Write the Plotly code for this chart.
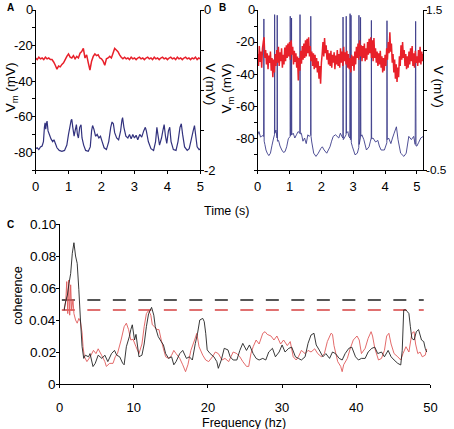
import plotly.graph_objects as go

W, H = 454, 429
FONT = "Liberation Sans, Arial, sans-serif"

# ---------------- Panel A ----------------
a_blue_t = [0.00, 0.05, 0.10, 0.15, 0.20, 0.24, 0.27, 0.29, 0.31, 0.33, 0.35, 0.38, 0.42, 0.47, 0.52,
            0.56, 0.60, 0.65, 0.72, 0.80, 0.88, 0.95, 1.00, 1.04, 1.08, 1.10, 1.13, 1.17, 1.20, 1.24,
            1.27, 1.30, 1.34, 1.38, 1.41, 1.46, 1.52, 1.60, 1.66, 1.70, 1.73, 1.77, 1.82, 1.87, 1.92,
            1.97, 2.02, 2.08, 2.15, 2.22, 2.28, 2.32, 2.36, 2.40, 2.46, 2.52, 2.58, 2.62, 2.64, 2.68,
            2.74, 2.80, 2.85, 2.90, 2.95, 3.00, 3.05, 3.10, 3.16, 3.22, 3.28, 3.33, 3.36, 3.42, 3.50,
            3.58, 3.64, 3.68, 3.71, 3.76, 3.82, 3.86, 3.90, 3.94, 3.98, 4.03, 4.07, 4.11, 4.18, 4.26,
            4.32, 4.38, 4.42, 4.46, 4.52, 4.60, 4.66, 4.72, 4.78, 4.82, 4.86, 4.90, 4.96, 5.00]
a_blue_v = [-78, -77.5, -78.5, -77, -76.5, -74, -66, -63.5, -67, -64, -62.5, -68, -70, -72.5, -74,
            -73, -75, -77.5, -79, -79.5, -79, -76, -70, -66, -62, -61.5, -66, -71, -68, -64.5,
            -70, -72, -66, -64.5, -72, -76, -79, -79.5, -77, -68, -65, -67, -71, -70, -72,
            -71, -74, -77.5, -78.5, -74, -66, -63, -64, -69, -72, -73, -68, -62, -60.5, -66,
            -71, -72, -70, -72.5, -70, -72, -70.5, -73, -70, -71.5, -68, -66, -68, -74, -78,
            -79, -74, -66, -70, -76, -72, -68, -64.5, -71, -75, -68, -66, -74, -78.5, -79,
            -74, -66, -64, -70, -77, -79, -78, -73, -68, -65, -71, -77, -78.5, -78]

a_red_dt = 0.05
a_red_v = [-0.60, -0.62, -0.59, -0.61, -0.60, -0.62, -0.59, -0.61, -0.60, -0.62,
           -0.62, -0.65, -0.69, -0.74, -0.70, -0.71, -0.68, -0.66, -0.62, -0.58,
           -0.55, -0.59, -0.60, -0.57, -0.61, -0.58, -0.60, -0.54, -0.52, -0.48,
           -0.60, -0.56, -0.66, -0.75, -0.64, -0.58, -0.55, -0.57, -0.56, -0.60,
           -0.61, -0.64, -0.69, -0.61, -0.60, -0.58, -0.60, -0.54, -0.48, -0.50,
           -0.52, -0.56, -0.59, -0.61, -0.59, -0.61, -0.60, -0.62, -0.59, -0.61,
           -0.60, -0.62, -0.60, -0.59, -0.61, -0.60, -0.62, -0.60, -0.59, -0.61,
           -0.60, -0.62, -0.59, -0.61, -0.60, -0.62, -0.60, -0.59, -0.61, -0.60,
           -0.62, -0.60, -0.59, -0.61, -0.60, -0.62, -0.59, -0.61, -0.60, -0.62,
           -0.60, -0.59, -0.61, -0.60, -0.62, -0.60, -0.61, -0.59, -0.62, -0.60,
           -0.61]

a_left_ticks = [0, -20, -40, -60, -80]
a_left_minor = [-10, -30, -50, -70, -90]
a_right_ticks = [0, -2]
a_right_minor = [-0.5, -1, -1.5]

# ---------------- Panel B ----------------
b_blue = [(0.00, -78.0), (0.04, -76.0), (0.09, -79.5), (0.14, -78.5), (0.185, -79.0), (0.194, -5.6),
          (0.203, -82.0), (0.225, -84.0), (0.26, -87.5), (0.30, -89.5), (0.35, -91.0), (0.40, -89.5),
          (0.45, -84.5), (0.50, -80.0), (0.527, -78.0), (0.532, -2.9), (0.540, -77.0), (0.573, -75.0),
          (0.608, -80.0), (0.613, -3.3), (0.620, -82.0), (0.654, -81.5), (0.70, -85.0), (0.757, -87.5),
          (0.81, -89.0), (0.859, -88.5), (0.910, -85.5), (0.961, -80.5), (1.018, -79.0), (1.022, -3.9),
          (1.030, -78.5), (1.043, -78.0), (1.058, -78.0), (1.063, -5.0), (1.070, -78.0), (1.115, -77.0),
          (1.166, -80.0), (1.217, -78.0), (1.268, -76.0), (1.323, -77.0), (1.329, -2.9), (1.336, -77.5),
          (1.370, -77.0), (1.421, -82.0), (1.472, -80.0), (1.524, -83.5), (1.575, -78.0), (1.62, -79.0),
          (1.662, -78.0), (1.667, -3.9), (1.675, -79.0), (1.697, -82.5), (1.759, -89.5), (1.830, -91.5),
          (1.902, -89.5), (1.984, -86.5), (2.03, -85.5), (2.086, -87.5), (2.168, -89.5), (2.270, -85.5),
          (2.320, -82.0), (2.372, -79.0), (2.444, -78.0), (2.546, -80.0), (2.597, -77.0), (2.64, -79.0),
          (2.675, -80.0), (2.68, -4.4), (2.688, -81.0), (2.720, -80.0), (2.775, -78.0), (2.78, -3.9),
          (2.788, -77.0), (2.832, -76.0), (2.86, -79.0), (2.895, -80.0), (2.90, -2.3), (2.91, -81.0),
          (2.925, -81.0), (2.93, -3.3), (2.94, -83.0), (2.975, -85.5), (3.057, -90.5), (3.129, -89.5),
          (3.175, -86.0), (3.18, -3.3), (3.188, -84.0), (3.225, -80.0), (3.23, -4.6), (3.24, -79.0),
          (3.272, -78.0), (3.333, -81.0), (3.415, -87.5), (3.497, -85.5), (3.54, -82.0), (3.565, -80.0),
          (3.57, -6.5), (3.578, -80.5), (3.620, -80.0), (3.702, -82.5), (3.773, -81.5), (3.82, -85.0),
          (3.875, -87.5), (3.978, -87.5), (4.055, -83.0), (4.06, -6.7), (4.068, -81.0), (4.110, -80.0),
          (4.182, -83.5), (4.233, -80.0), (4.285, -77.0), (4.356, -73.0), (4.407, -81.0), (4.489, -89.5),
          (4.591, -91.5), (4.663, -89.5), (4.745, -79.0), (4.826, -81.0), (4.898, -79.0), (4.945, -84.0),
          (4.96, -7.1), (4.972, -85.0), (5.00, -85.0), (5.05, -83.0), (5.12, -80.0), (5.20, -79.0)]
b_blue_t = [p[0] for p in b_blue]
b_blue_v = [p[1] for p in b_blue]

b_red_dt = 0.025
b_red_v = [0.95, 0.80, 1.05, 0.85, 0.98, 0.78, 1.02, 1.10,
           1.16, 0.90, 1.00, 0.82, 0.96, 0.76, 0.93, 0.84,
           0.98, 0.74, 0.90, 0.66, 0.88, 0.72, 0.95, 0.80,
           1.00, 0.84, 1.04, 0.80, 0.97, 0.86, 1.02, 0.78,
           0.94, 0.82, 1.03, 0.86, 1.06, 0.90, 1.08, 0.92,
           1.10, 0.88, 1.12, 0.94, 1.04, 0.82, 0.99, 0.85,
           0.96, 0.78, 0.92, 0.62, 0.90, 0.74, 0.99, 0.83,
           1.05, 0.88, 1.08, 0.90, 1.12, 0.92, 1.14, 0.96,
           1.16, 0.92, 1.05, 0.86, 0.98, 0.80, 0.96, 0.76,
           0.94, 0.78, 0.90, 0.72, 0.86, 0.64, 0.80, 0.58,
           0.84, 0.95, 1.10, 0.92, 1.15, 0.96, 1.06, 0.88,
           1.00, 0.82, 0.96, 0.80, 0.99, 0.78, 0.94, 0.84,
           0.97, 0.76, 0.93, 0.82, 1.00, 0.80, 0.95, 0.78,
           1.02, 0.84, 0.98, 0.80, 1.04, 0.86, 0.97, 0.82,
           0.99, 0.78, 0.95, 0.76, 0.90, 0.72, 0.94, 0.80,
           0.92, 0.74, 0.98, 0.82, 1.04, 0.90, 1.08, 0.88,
           1.12, 0.92, 1.06, 0.86, 1.05, 0.90, 1.08, 0.86,
           1.02, 0.88, 1.10, 0.94, 1.14, 0.96, 1.16, 0.90,
           1.12, 0.86, 1.15, 0.90, 1.02, 0.84, 0.98, 0.80,
           0.96, 0.82, 0.99, 0.78, 0.92, 0.72, 0.90, 0.74,
           0.94, 0.80, 1.02, 0.88, 1.10, 0.96, 1.22, 0.98,
           1.08, 0.84, 0.95, 0.72, 0.88, 0.64, 0.82, 0.60,
           0.78, 0.66, 0.92, 0.80, 1.06, 0.88, 1.10, 0.90,
           1.00, 0.80, 0.95, 0.76, 0.92, 0.78, 0.98, 0.82,
           1.02, 0.86, 1.05, 0.80, 0.96, 0.78, 0.99, 0.84,
           0.92, 0.80, 1.00, 0.84, 1.04, 0.82, 0.98, 0.86,
           0.95]

b_left_ticks = [0, -20, -40, -60, -80]
b_left_minor = [-10, -30, -50, -70, -90, -100]
b_right_ticks = [1.5, -0.5]
b_right_minor = [0, 0.5, 1.0]
time_ticks = [0, 1, 2, 3, 4, 5]

# ---------------- Panel C ----------------
c_black = [(0.61, 0.046), (0.83, 0.052), (1.05, 0.0556), (1.27, 0.063), (1.49, 0.069), (1.71, 0.0817),
           (1.93, 0.0883), (2.15, 0.080), (2.37, 0.0754), (2.59, 0.059), (2.81, 0.040), (3.03, 0.0233),
           (3.25, 0.016), (3.47, 0.018), (3.9, 0.017), (4.1, 0.019), (4.5, 0.0109), (4.8, 0.0129),
           (5.2, 0.018), (5.7, 0.016), (6.1, 0.018), (6.5, 0.014), (7.0, 0.019), (7.4, 0.021),
           (7.7, 0.018), (8.1, 0.017), (8.5, 0.013), (8.7, 0.012), (9.0, 0.0233), (9.4, 0.0296),
           (9.6, 0.034), (9.8, 0.037), (10.1, 0.0275), (10.3, 0.031), (10.7, 0.017), (11.1, 0.018),
           (11.4, 0.025), (11.7, 0.0358), (12.0, 0.044), (12.4, 0.0479), (12.7, 0.043), (12.9, 0.0358),
           (13.3, 0.0296), (13.7, 0.0265), (14.0, 0.0244), (14.3, 0.019), (14.7, 0.016), (15.1, 0.017),
           (15.4, 0.012), (15.7, 0.014), (16.2, 0.019), (16.6, 0.021), (17.1, 0.016), (17.5, 0.017),
           (17.9, 0.015), (18.3, 0.0254), (18.6, 0.0317), (18.9, 0.040), (19.3, 0.041), (19.5, 0.039),
           (19.7, 0.0317), (19.9, 0.0213), (20.3, 0.019), (20.8, 0.017), (21.2, 0.014), (21.4, 0.0098),
           (21.8, 0.015), (22.2, 0.0223), (22.7, 0.0213), (23.0, 0.017), (23.4, 0.015), (23.9, 0.015),
           (24.3, 0.021), (24.7, 0.0254), (25.2, 0.021), (25.6, 0.0244), (26.1, 0.019), (26.5, 0.016),
           (26.9, 0.015), (27.4, 0.016), (27.8, 0.015), (28.2, 0.020), (28.7, 0.0223), (29.1, 0.017),
           (29.6, 0.020), (30.0, 0.0244), (30.4, 0.020), (30.9, 0.0223), (31.3, 0.023), (31.8, 0.017),
           (32.2, 0.016), (32.6, 0.015), (33.1, 0.017), (33.5, 0.0254), (33.9, 0.0306), (34.3, 0.0317),
           (34.6, 0.0244), (35.0, 0.0213), (35.5, 0.017), (35.9, 0.019), (36.4, 0.016), (36.8, 0.020),
           (37.2, 0.019), (37.7, 0.016), (38.1, 0.015), (38.5, 0.019), (39.0, 0.0223), (39.4, 0.023),
           (39.9, 0.017), (40.3, 0.015), (40.7, 0.016), (41.2, 0.016), (41.6, 0.020), (42.1, 0.0223),
           (42.5, 0.023), (42.9, 0.019), (43.4, 0.020), (43.8, 0.017), (44.3, 0.021), (44.7, 0.017),
           (45.1, 0.015), (45.6, 0.0129), (46.0, 0.0119), (46.2, 0.021), (46.4, 0.0463), (46.7, 0.0463),
           (46.9, 0.0452), (47.1, 0.044), (47.3, 0.0358), (47.5, 0.0285), (47.8, 0.0275), (48.1, 0.0327),
           (48.4, 0.034), (48.8, 0.0275), (49.1, 0.0265), (49.3, 0.0223), (49.5, 0.020)]
c_red = [(0.61, 0.047), (0.83, 0.052), (0.96, 0.064), (1.1, 0.044), (1.23, 0.065), (1.36, 0.043),
         (1.49, 0.062), (1.62, 0.046), (1.8, 0.053), (1.93, 0.044), (2.15, 0.040), (2.37, 0.038),
         (2.59, 0.041), (2.81, 0.039), (3.03, 0.032), (3.16, 0.0233), (3.34, 0.017), (3.68, 0.014),
         (4.12, 0.017), (4.56, 0.021), (4.9, 0.019), (5.2, 0.022), (5.66, 0.018), (6.1, 0.014),
         (6.3, 0.011), (6.75, 0.0129), (7.2, 0.0129), (7.5, 0.017), (7.8, 0.019), (8.29, 0.0275),
         (8.7, 0.0358), (9.0, 0.038), (9.3, 0.034), (9.6, 0.0275), (9.9, 0.028), (10.3, 0.0233),
         (10.7, 0.019), (11.1, 0.025), (11.4, 0.0358), (11.7, 0.044), (12.0, 0.046), (12.3, 0.043),
         (12.5, 0.037), (12.8, 0.0358), (13.1, 0.034), (13.4, 0.034), (13.7, 0.0275), (14.0, 0.022),
         (14.3, 0.017), (14.7, 0.016), (15.1, 0.018), (15.4, 0.021), (15.7, 0.019), (16.2, 0.016),
         (16.6, 0.012), (16.98, 0.0077), (17.3, 0.012), (17.7, 0.021), (18.2, 0.0275), (18.5, 0.0317),
         (18.8, 0.0233), (19.3, 0.018), (19.7, 0.015), (20.1, 0.014), (20.6, 0.017), (21.0, 0.020),
         (21.4, 0.019), (21.9, 0.015), (22.3, 0.016), (22.8, 0.014), (23.1, 0.017), (23.4, 0.020),
         (23.9, 0.019), (24.3, 0.017), (24.7, 0.014), (25.2, 0.011), (25.5, 0.011), (25.8, 0.019),
         (26.1, 0.0233), (26.5, 0.0275), (26.9, 0.025), (27.4, 0.0317), (27.7, 0.0327), (28.0, 0.031),
         (28.5, 0.030), (28.9, 0.0275), (29.3, 0.030), (29.8, 0.025), (30.2, 0.0275), (30.7, 0.024),
         (31.1, 0.0265), (31.5, 0.017), (31.9, 0.015), (32.2, 0.017), (32.6, 0.021), (33.1, 0.019),
         (33.5, 0.021), (33.9, 0.020), (34.4, 0.022), (34.8, 0.019), (35.3, 0.017), (35.7, 0.019),
         (36.1, 0.0265), (36.6, 0.0317), (36.8, 0.031), (37.0, 0.024), (37.5, 0.014), (37.9, 0.011),
         (38.1, 0.0077), (38.3, 0.012), (38.8, 0.016), (39.2, 0.0223), (39.6, 0.0275), (40.1, 0.030),
         (40.4, 0.0275), (40.7, 0.019), (41.2, 0.0223), (41.6, 0.0285), (42.0, 0.0327), (42.2, 0.030),
         (42.5, 0.0223), (43.0, 0.015), (43.4, 0.016), (43.8, 0.021), (44.1, 0.030), (44.4, 0.0317),
         (44.7, 0.025), (45.1, 0.019), (45.6, 0.017), (46.0, 0.015), (46.3, 0.019), (46.7, 0.0233),
         (47.1, 0.020), (47.5, 0.0317), (47.8, 0.0327), (48.0, 0.025), (48.3, 0.019), (48.6, 0.020),
         (48.9, 0.017), (49.3, 0.018), (49.5, 0.022)]
c_black_f = [p[0] for p in c_black]
c_black_v = [p[1] for p in c_black]
c_red_f = [p[0] for p in c_red]
c_red_v = [p[1] for p in c_red]

c_y_ticks = [0, 0.02, 0.04, 0.06, 0.08, 0.1]
c_y_labels = ["0", "0.02", "0.04", "0.06", "0.08", "0.10"]
c_x_ticks = [0, 10, 20, 30, 40, 50]

sig_black = 0.0525
sig_red = 0.0463
sig_f_range = [0.3, 49.1]

# ---------------- Figure ----------------
BLUE = "#32327e"
RED = "#e8202a"
fig = go.Figure()

fig.add_trace(go.Scatter(x=a_blue_t, y=a_blue_v, mode="lines", xaxis="x", yaxis="y",
                         line=dict(color=BLUE, width=1.2, simplify=False), showlegend=False))
fig.add_trace(go.Scatter(x=[i * a_red_dt for i in range(len(a_red_v))], y=a_red_v, mode="lines",
                         xaxis="x", yaxis="y2", line=dict(color=RED, width=1.5, simplify=False),
                         showlegend=False))
fig.add_trace(go.Scatter(x=b_blue_t, y=b_blue_v, mode="lines", xaxis="x2", yaxis="y3",
                         line=dict(color="#3c3c8a", width=0.9, simplify=False),
                         showlegend=False))
fig.add_trace(go.Scatter(x=[i * b_red_dt for i in range(len(b_red_v))], y=b_red_v, mode="lines",
                         xaxis="x2", yaxis="y4", line=dict(color=RED, width=1.5, simplify=False),
                         showlegend=False))
fig.add_trace(go.Scatter(x=sig_f_range, y=[sig_black, sig_black], mode="lines", xaxis="x3", yaxis="y5",
                         line=dict(color="#555555", width=2, dash="13px,12.5px"), showlegend=False))
fig.add_trace(go.Scatter(x=sig_f_range, y=[sig_red, sig_red], mode="lines", xaxis="x3", yaxis="y5",
                         line=dict(color="#e07070", width=2, dash="13px,12.5px"), showlegend=False))
fig.add_trace(go.Scatter(x=c_red_f, y=c_red_v, mode="lines", xaxis="x3", yaxis="y5",
                         line=dict(color="#e05a5a", width=0.9, simplify=False), showlegend=False))
fig.add_trace(go.Scatter(x=c_black_f, y=c_black_v, mode="lines", xaxis="x3", yaxis="y5",
                         line=dict(color="#222222", width=0.9, simplify=False), showlegend=False))


def px_x(p):
    return p / W


def px_y(p):
    return 1 - p / H


def axis(size=13, standoff=1, minor_vals=None, labels=True, **kw):
    d = dict(showline=True, linecolor="black", linewidth=1, showgrid=False, zeroline=False,
             ticks="outside", ticklen=3, tickwidth=1, tickcolor="black",
             showticklabels=labels, ticklabelstandoff=standoff,
             tickfont=dict(family=FONT, size=size, color="black"), fixedrange=True)
    if minor_vals is not None:
        d["minor"] = dict(tickmode="array", tickvals=minor_vals, ticks="outside", ticklen=3,
                          tickwidth=1, tickcolor="black", showgrid=False)
    d.update(kw)
    return d


xA0, xA1 = 32.3, 201.3
xB0, xB1 = 260, 429.7
xC0, xC1 = 57, 437
dA = [px_x(xA0), px_x(xA1)]
dB = [px_x(xB0), px_x(xB1)]
dTop = [px_y(170), px_y(10)]
dC = [px_x(xC0), px_x(xC1)]
dCy = [px_y(384), px_y(224)]

fig.update_layout(
    xaxis=axis(domain=dA, anchor="y", range=[0, 5], tickvals=time_ticks),
    yaxis=axis(domain=dTop, anchor="x", range=[-90, 0], tickvals=a_left_ticks,
               minor_vals=a_left_minor, labels=False),
    yaxis2=axis(overlaying="y", side="right", anchor="x", range=[-2, 0], tickvals=a_right_ticks,
                minor_vals=a_right_minor, labels=False),
    xaxis2=axis(domain=dB, anchor="y3", range=[0, 5.2], tickvals=time_ticks),
    yaxis3=axis(domain=dTop, anchor="x2", range=[-100, 0], tickvals=b_left_ticks,
                minor_vals=b_left_minor, labels=False),
    yaxis4=axis(overlaying="y3", side="right", anchor="x2", range=[-0.5, 1.5], tickvals=b_right_ticks,
                minor_vals=b_right_minor, labels=False),
    xaxis3=axis(size=13, standoff=8, domain=dC, anchor="y5", range=[0, 50], tickvals=c_x_ticks),
    yaxis5=axis(domain=dCy, anchor="x3", range=[0, 0.1], tickvals=c_y_ticks, labels=False),
)

ann = []


def label(text, x, y, size=12, angle=0, bold=False):
    ann.append(dict(text=f"<b>{text}</b>" if bold else text, x=px_x(x), y=px_y(y), xref="paper",
                    yref="paper", showarrow=False, textangle=angle, xanchor="center",
                    yanchor="middle", font=dict(family=FONT, size=size, color="black")))


def ytick_labels(vals, texts, yref, xpx, side, size=13):
    for v, t in zip(vals, texts):
        ann.append(dict(text=t, x=px_x(xpx), y=v, xref="paper", yref=yref, showarrow=False,
                        xanchor="right" if side == "left" else "left", yanchor="middle",
                        borderpad=0, borderwidth=0,
                        font=dict(family=FONT, size=size, color="black")))


ytick_labels(a_left_ticks, [str(v) for v in a_left_ticks], "y", xA0 - 2.5, "left")
ytick_labels(a_right_ticks, [str(v) for v in a_right_ticks], "y2", xA1 + 3.2, "right")
ytick_labels(b_left_ticks, [str(v) for v in b_left_ticks], "y3", xB0 - 3, "left")
ytick_labels(b_right_ticks, [str(v) for v in b_right_ticks], "y4", xB1 + 3.2, "right", size=11.8)
ytick_labels(c_y_ticks, c_y_labels, "y5", xC0 - 3.5, "left", size=13.5)

label("A", 7, 7, size=10, bold=True)
label("B", 224, 7, size=10, bold=True)
label("C", 7, 224, size=10, bold=True)
label("V<sub>m</sub> (mV)", 7.5, 87, size=13.5, angle=-90)
label("V (mV)", 212, 84, size=13.5, angle=90)
label("V<sub>m</sub> (mV)", 230, 88, size=13.5, angle=-90)
label("V (mV)", 446, 87, size=13.5, angle=90)
label("Time (s)", 228, 211, size=12.5)
label("coherence", 14, 296, size=12.5, angle=-90)
label("Frequency (hz)", 246, 423, size=12.5)

fig.update_layout(width=W, height=H, margin=dict(l=0, r=0, t=0, b=0), autosize=False,
                  paper_bgcolor="white", plot_bgcolor="white", showlegend=False, annotations=ann)

fig.write_html("out.html", config={"displayModeBar": False, "staticPlot": True},
               post_script="document.body.style.margin='0';document.body.style.padding='0';"
                           "document.body.style.overflow='hidden';")
